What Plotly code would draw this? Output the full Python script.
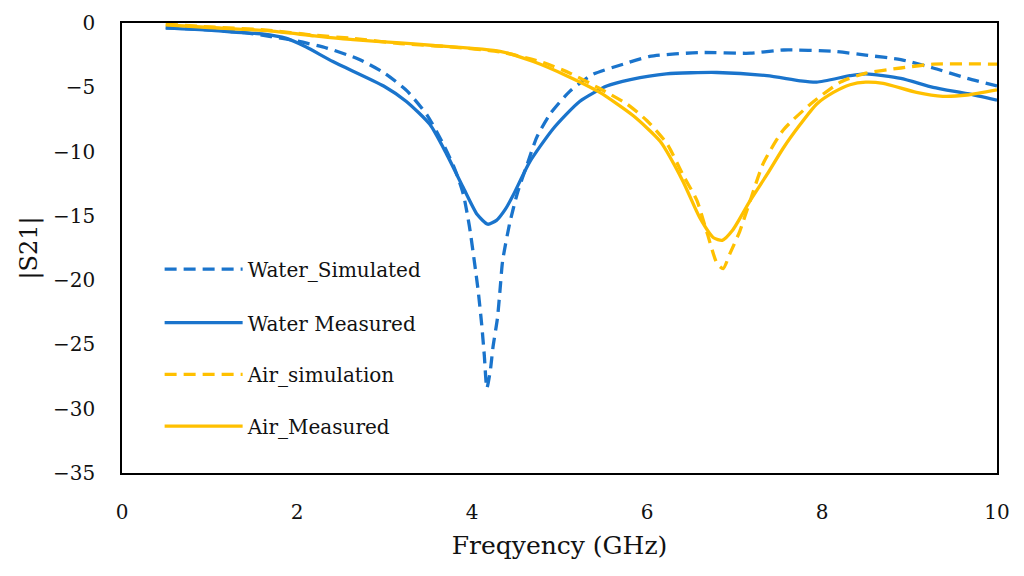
import plotly.graph_objects as go

ws_x = [0.5, 1.0, 1.4, 1.7, 2.0, 2.34, 2.7, 3.0, 3.26, 3.49, 3.67, 3.8, 3.9, 3.97, 4.03, 4.07, 4.11, 4.14, 4.17,
        4.21, 4.24, 4.29, 4.32, 4.35, 4.43, 4.52, 4.63, 4.74, 4.89, 5.12, 5.38, 5.73, 6.03, 6.6, 7.18, 7.56,
        8.13, 8.5, 8.9, 9.27, 9.66, 10.0]
ws_y = [-0.35, -0.55, -0.75, -1.05, -1.4, -1.95, -2.8, -3.9, -5.3, -7.2, -9.4, -11.3, -13.3, -15.8, -18.7,
        -20.8, -23.4, -25.8, -28.4, -27.0, -25.2, -23.0, -20.8, -18.5, -15.6, -13.2, -11.0, -8.9, -7.1, -5.3,
        -4.0, -3.2, -2.6, -2.3, -2.35, -2.1, -2.2, -2.5, -2.85, -3.5, -4.3, -4.9]

wm_x = [0.5, 1.0, 1.27, 1.6, 1.88, 2.1, 2.41, 2.99, 3.25, 3.52, 3.71, 3.9, 4.06, 4.18, 4.28, 4.38, 4.47, 4.66,
        4.93, 5.23, 5.54, 5.81, 6.22, 6.8, 7.37, 7.75, 7.94, 8.32, 8.5, 8.9, 9.27, 9.66, 10.0]
wm_y = [-0.4, -0.55, -0.7, -0.85, -1.2, -1.85, -3.0, -4.9, -6.1, -7.9, -10.2, -12.8, -14.9, -15.65, -15.35,
        -14.5, -13.4, -10.8, -8.2, -6.1, -4.9, -4.4, -3.95, -3.85, -4.1, -4.5, -4.6, -4.1, -3.95, -4.3, -5.0,
        -5.5, -6.0]

as_x = [0.5, 1.0, 1.66, 2.2, 2.64, 3.18, 3.75, 4.32, 4.78, 5.12, 5.46, 5.77, 6.0, 6.23, 6.41, 6.57, 6.69,
        6.8, 6.87, 6.95, 7.06, 7.18, 7.33, 7.56, 7.87, 8.21, 8.5, 8.9, 9.27, 10.0]
as_y = [-0.1, -0.3, -0.55, -0.95, -1.2, -1.6, -1.85, -2.25, -3.0, -3.9, -5.1, -6.3, -7.6, -9.4, -11.8,
        -13.8, -16.4, -18.7, -19.1, -17.9, -16.2, -13.8, -10.9, -8.3, -6.3, -4.6, -3.9, -3.5, -3.2, -3.2]

am_x = [0.5, 1.0, 1.66, 2.2, 2.64, 3.18, 3.56, 4.32, 4.7, 5.08, 5.46, 5.84, 6.15, 6.41, 6.6, 6.76, 6.86,
        6.98, 7.18, 7.37, 7.56, 7.75, 7.94, 8.13, 8.32, 8.5, 8.7, 9.08, 9.38, 9.66, 10.0]
am_y = [-0.15, -0.35, -0.6, -1.0, -1.3, -1.55, -1.75, -2.2, -3.0, -4.1, -5.4, -7.2, -9.2, -12.3, -15.1,
        -16.7, -16.9, -16.1, -13.8, -11.8, -9.7, -7.9, -6.3, -5.4, -4.8, -4.6, -4.7, -5.4, -5.7, -5.6, -5.2]

names = ["Water_Simulated", "Water Measured", "Air_simulation", "Air_Measured"]
x_ticks = [0, 2, 4, 6, 8, 10]
y_ticks = [0, -5, -10, -15, -20, -25, -30, -35]
BLUE = "#1a74cc"
GOLD = "#ffc000"
FONT = "DejaVu Serif"
TXT = "#111111"

series = [
    (ws_x, ws_y, BLUE, "12px,7px", "legend"),
    (wm_x, wm_y, BLUE, "solid", "legend2"),
    (as_x, as_y, GOLD, "12px,7px", "legend3"),
    (am_x, am_y, GOLD, "solid", "legend4"),
]

fig = go.Figure()
for (x, y, c, d, lg), n in zip(series, names):
    fig.add_trace(go.Scatter(x=x, y=y, mode="lines", name=n, legend=lg,
                             line=dict(color=c, width=3.3, dash=d, shape="spline", smoothing=0.6)))

leg_common = dict(x=0.043, xanchor="left", yanchor="middle", bgcolor="rgba(0,0,0,0)",
                  font=dict(family=FONT, size=20, color=TXT), itemwidth=78)
ys = [0.453, 0.334, 0.219, 0.104]
fig.update_layout(
    width=1008, height=552,
    margin=dict(l=114, r=19, t=15, b=87),
    paper_bgcolor="white", plot_bgcolor="white",
    showlegend=True,
    legend=dict(y=ys[0], **leg_common),
    legend2=dict(y=ys[1], **leg_common),
    legend3=dict(y=ys[2], **leg_common),
    legend4=dict(y=ys[3], **leg_common),
    xaxis=dict(range=[0, 10], tickvals=x_ticks, showgrid=False, zeroline=False, automargin=False,
               showline=True, linecolor="black", linewidth=1.5, mirror=True, ticks="",
               ticklabelstandoff=20,
               tickfont=dict(family=FONT, size=20, color=TXT),
               title=dict(text="Freqyency (GHz)", font=dict(family=FONT, size=25, color=TXT), standoff=18)),
    yaxis=dict(range=[-35, 0], tickvals=y_ticks, showgrid=False, zeroline=False, automargin=False,
               showline=True, linecolor="black", linewidth=1.5, mirror=True, ticks="",
               ticklabelstandoff=21,
               tickfont=dict(family=FONT, size=20, color=TXT),
               title=dict(text="|S21|", font=dict(family=FONT, size=24, color=TXT), standoff=9)),
)
fig.write_html("out.html")
